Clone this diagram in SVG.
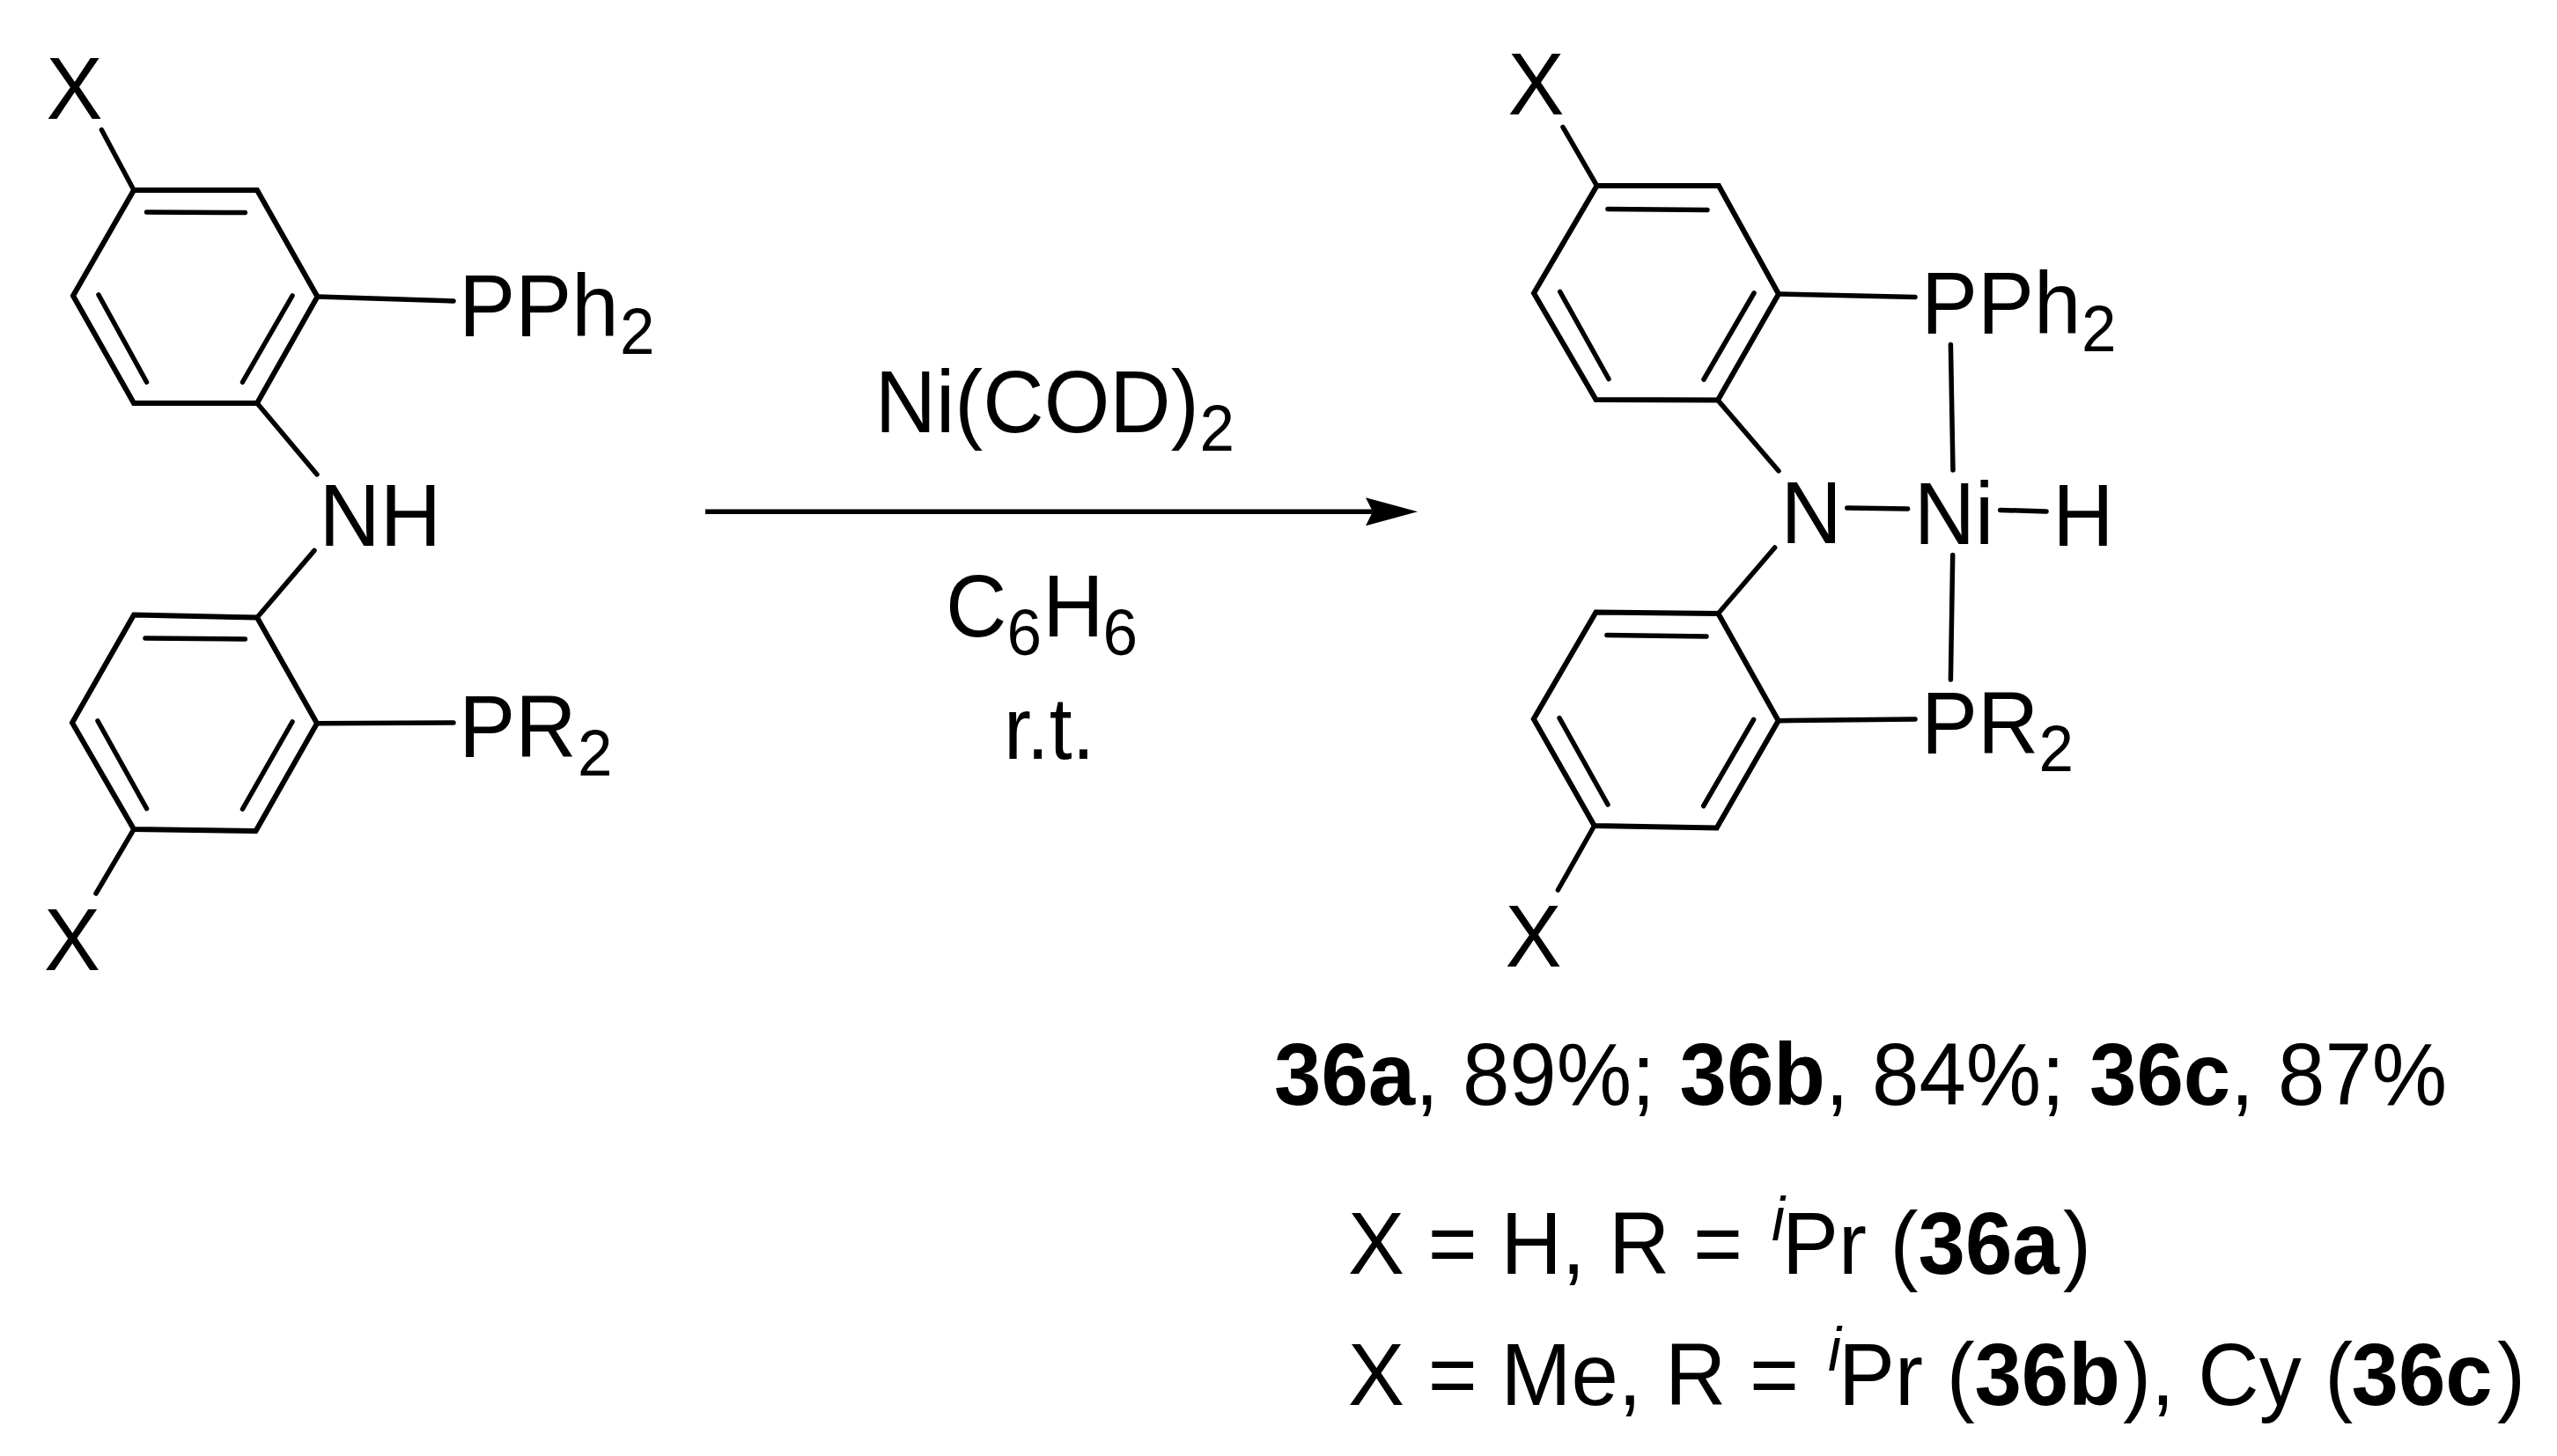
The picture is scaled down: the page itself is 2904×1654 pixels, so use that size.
<svg xmlns="http://www.w3.org/2000/svg" width="2904" height="1654" viewBox="0 0 2904 1654">
<style>
text{font-family:"Liberation Sans",Arial,sans-serif;font-size:100px;fill:#000}
.s{font-size:74px}
.b{font-weight:bold}
.i{font-style:italic;font-size:70px}
.ring{fill:none;stroke:#000;stroke-width:6;stroke-linejoin:miter}
.in,.bond{stroke:#000;stroke-width:5.500;stroke-linecap:round;fill:none}
.arrow{stroke:#000;stroke-width:5.500;fill:none}
</style>
<defs>
<marker id="head" markerUnits="userSpaceOnUse" markerWidth="60" markerHeight="32" refX="8" refY="16" orient="auto"><path d="M0 0L59 16L0 32L8 16Z" fill="#000"/></marker>
</defs>
<rect width="2904" height="1654" fill="#fff"/>
<g id="connectors">
<line class="bond" x1="115.400" y1="147.500" x2="152" y2="216"/>
<line class="bond" x1="360.500" y1="337" x2="515" y2="342"/>
<line class="bond" x1="292" y1="458" x2="360" y2="539"/>
<line class="bond" x1="357" y1="625.400" x2="292" y2="701.500"/>
<line class="bond" x1="360" y1="821.700" x2="515" y2="821"/>
<line class="bond" x1="152" y1="942" x2="109" y2="1015"/>
<line class="arrow" x1="801" y1="581.300" x2="1559" y2="581.300" marker-end="url(#head)"/>
<line class="bond" x1="1775" y1="144.300" x2="1813.600" y2="211"/>
<line class="bond" x1="2020" y1="334" x2="2175" y2="337.500"/>
<line class="bond" x1="1951" y1="454.600" x2="2020" y2="535"/>
<line class="bond" x1="2215.400" y1="391.500" x2="2218" y2="534"/>
<line class="bond" x1="2097.800" y1="577" x2="2166.600" y2="578"/>
<line class="bond" x1="2271.700" y1="579.400" x2="2324" y2="581"/>
<line class="bond" x1="2217.700" y1="630.400" x2="2215.400" y2="772"/>
<line class="bond" x1="2015.700" y1="622" x2="1951.400" y2="697"/>
<line class="bond" x1="1810.700" y1="938" x2="1769.400" y2="1011"/>
<line class="bond" x1="2019.700" y1="818.700" x2="2175" y2="817"/>
</g>
<g id="ring-left-top">
<polygon class="ring" points="152,216 292,216 360.500,337 292,458 152,458 83,336"/>
<line class="in" x1="166.500" y1="241" x2="278.400" y2="241.500"/>
<line class="in" x1="332" y1="336" x2="275.500" y2="434"/>
<line class="in" x1="112" y1="335" x2="166.500" y2="434"/>
</g>
<g id="ring-left-bottom">
<polygon class="ring" points="152,698.500 292,701.500 360,821.700 290.500,944 152,942 82,821"/>
<line class="in" x1="165" y1="725" x2="278.400" y2="726"/>
<line class="in" x1="332" y1="820" x2="275.500" y2="919"/>
<line class="in" x1="111" y1="819" x2="166.500" y2="918.500"/>
</g>
<g id="ring-right-top">
<polygon class="ring" points="1813.600,211 1952,211 2020,334 1951,454.600 1812.500,454 1742,333"/>
<line class="in" x1="1826" y1="237.600" x2="1939" y2="238.400"/>
<line class="in" x1="1992" y1="333" x2="1935" y2="431"/>
<line class="in" x1="1771.700" y1="331.400" x2="1827" y2="430.500"/>
</g>
<g id="ring-right-bottom">
<polygon class="ring" points="1812.500,695.400 1951.400,697 2019.700,818.700 1949.700,940.400 1810.700,938 1741.800,816.700"/>
<line class="in" x1="1825" y1="721.500" x2="1938" y2="723"/>
<line class="in" x1="1991.600" y1="817.500" x2="1934.700" y2="915.500"/>
<line class="in" x1="1771" y1="815.600" x2="1826" y2="914"/>
</g>
<g id="x-left-top"><text transform="translate(52.500 134.700) scale(.96 1)">X</text></g>
<g id="pph2-left"><text transform="translate(521.300 381.500) scale(.96 1)">PPh</text><text class="s" transform="translate(704 402) scale(.96 1)">2</text></g>
<g id="nh"><text transform="translate(362.500 620) scale(.96 1)">NH</text></g>
<g id="pr2-left"><text transform="translate(521.300 860) scale(.96 1)">PR</text><text class="s" transform="translate(656 880.600) scale(.96 1)">2</text></g>
<g id="x-left-bottom"><text transform="translate(50 1102) scale(.96 1)">X</text></g>
<g id="reagent-1"><text transform="translate(993.700 491) scale(.96 1)">Ni(COD)</text><text class="s" transform="translate(1362.400 511.700) scale(.96 1)">2</text></g>
<g id="reagent-2"><text transform="translate(1074 723.300) scale(.96 1)">C</text><text class="s" transform="translate(1143.500 744.300) scale(.96 1)">6</text><text transform="translate(1184.300 723.300) scale(.96 1)">H</text><text class="s" transform="translate(1252.500 744.300) scale(.96 1)">6</text></g>
<g id="reagent-3"><text transform="translate(1140 861.700) scale(.93 1)">r.t.</text></g>
<g id="x-right-top"><text transform="translate(1712.500 130) scale(.96 1)">X</text></g>
<g id="pph2-right"><text transform="translate(2182 378.500) scale(.96 1)">PPh</text><text class="s" transform="translate(2364 399) scale(.96 1)">2</text></g>
<g id="n-right"><text transform="translate(2022.500 617) scale(.96 1)">N</text></g>
<g id="ni"><text transform="translate(2173.700 618) scale(.96 1)">Ni</text></g>
<g id="h-right"><text transform="translate(2331.300 620.400) scale(.96 1)">H</text></g>
<g id="pr2-right"><text transform="translate(2182 856) scale(.96 1)">PR</text><text class="s" transform="translate(2315.600 876.400) scale(.96 1)">2</text></g>
<g id="x-right-bottom"><text transform="translate(1709.500 1098.400) scale(.96 1)">X</text></g>
<g id="yields"><text transform="translate(1447 1255) scale(.96 1)"><tspan class="b" x="0">36a</tspan><tspan>, </tspan><tspan x="222.900">89%; </tspan><tspan class="b" x="479.700">36b</tspan><tspan>, </tspan><tspan x="707.300">84%; </tspan><tspan class="b" x="964.600">36c</tspan><tspan>, </tspan><tspan x="1187.500">87%</tspan></text></g>
<g id="legend-1"><text transform="translate(1531 1447.300) scale(.96 1)"><tspan x="0">X = H, R = </tspan><tspan class="i" x="501" y="-38.300">i</tspan><tspan x="513.500" y="0">Pr (</tspan><tspan class="b" x="674.500">36a</tspan><tspan x="845.800">)</tspan></text></g>
<g id="legend-2"><text transform="translate(1531 1595.700) scale(.96 1)"><tspan x="0">X = Me, R = </tspan><tspan class="i" x="567.700" y="-38.700">i</tspan><tspan x="580.200" y="0">Pr (</tspan><tspan class="b" x="741.100">36b</tspan><tspan x="916.700">), Cy (</tspan><tspan class="b" x="1187">36c</tspan><tspan x="1359.400">)</tspan></text></g>
</svg>
